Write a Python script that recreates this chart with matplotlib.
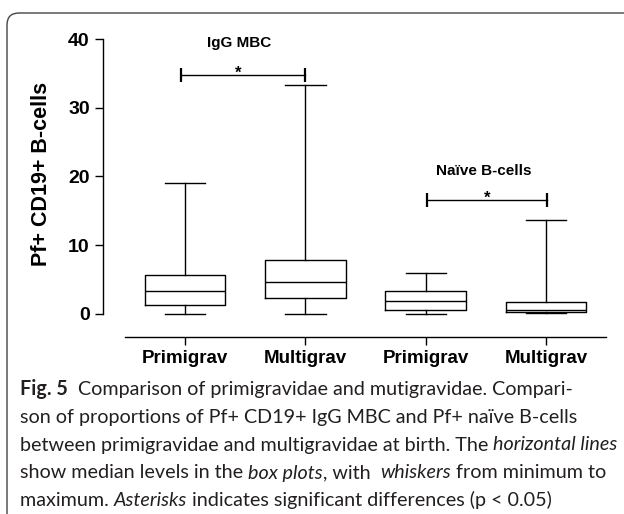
import matplotlib
matplotlib.use("Agg")
from matplotlib import pyplot as plt
from matplotlib.patches import FancyBboxPatch

# box plot summary (min, q1, median, q3, max)
groups = ['Primigrav', 'Multigrav', 'Primigrav', 'Multigrav']
mins = [0.0, 0.0, 0.0, 0.05]
q1s = [1.3, 2.3, 0.6, 0.2]
medians = [3.3, 4.6, 1.8, 0.6]
q3s = [5.7, 7.8, 3.3, 1.7]
maxs = [19.1, 33.3, 6.0, 13.6]
yticks = [0, 10, 20, 30, 40]

fig = plt.figure(figsize=(6.24, 5.14), dpi=100)
ax = fig.add_axes([0.165, 0.344, 0.808, 0.580])

stats = []
for i in range(len(groups)):
    stats.append(dict(whislo=mins[i], q1=q1s[i], med=medians[i], q3=q3s[i],
                      whishi=maxs[i], fliers=[], label=groups[i]))

lw = 1.0
ax.bxp(stats, positions=[1, 2, 3, 4], widths=0.67, showfliers=False,
       boxprops=dict(color='black', linewidth=lw),
       whiskerprops=dict(color='black', linewidth=lw),
       capprops=dict(color='black', linewidth=lw),
       medianprops=dict(color='black', linewidth=lw))

ax.set_xlim(0.318, 4.507)
ax.set_ylim(-3.4, 40)
ax.set_yticks(yticks)
ax.spines['top'].set_visible(False)
ax.spines['right'].set_visible(False)
ax.spines['left'].set_bounds(0, 40)
ax.spines['bottom'].set_bounds(0.5, 4.5)
ax.spines['left'].set_linewidth(lw)
ax.spines['bottom'].set_linewidth(lw)
ax.tick_params(width=lw, length=6, labelsize=14)
ax.tick_params(axis='x', pad=3, labelsize=13.5)
ax.set_xticks([1, 2, 3, 4])
ax.set_xticklabels(groups)
for t in ax.get_xticklabels() + ax.get_yticklabels():
    t.set_fontfamily('Liberation Sans')
    t.set_fontweight('bold')
ax.set_ylabel('Pf+ CD19+ B-cells', fontsize=15.5, fontweight='bold',
              fontfamily='Liberation Sans')
ax.yaxis.set_label_coords(-0.101, 0.547)

# significance brackets
def bracket(x0, x1, y, star_x):
    ax.plot([x0, x1], [y, y], color='black', lw=lw)
    ax.vlines([x0, x1], y - 1.0, y + 1.0, color='black', lw=1.6)
    ax.text(star_x, y - 0.4, '*', ha='center', va='baseline', fontsize=12,
            fontweight='bold', fontfamily='Liberation Sans')

bracket(0.97, 2.0, 34.8, 1.44)
bracket(3.01, 4.01, 16.6, 3.51)
ax.text(1.45, 39.4, 'IgG MBC', ha='center', va='center', fontsize=11,
        fontweight='bold', fontfamily='Liberation Sans')
ax.text(3.48, 20.8, 'Naïve B-cells', ha='center', va='center', fontsize=11,
        fontweight='bold', fontfamily='Liberation Sans')

# frame round figure + caption
frame = FancyBboxPatch((7, -60), 700, 514 - 13 + 60,
                       boxstyle='round,pad=0,rounding_size=12',
                       transform=None, fill=False, edgecolor='#444444', lw=1.0)
fig.patches.append(frame)

cap_font = 'Lato'
cap_size = 14.2
cap_color = '#231f20'
lines = [
    [('Fig. 5', 'bold'), ('  Comparison of primigravidae and mutigravidae. Compari-', 'normal')],
    [('son of proportions of Pf+ CD19+ IgG MBC and Pf+ naïve B-cells', 'normal')],
    [('between primigravidae and multigravidae at birth. The ', 'normal'),
     ('horizontal lines', 'italic')],
    [('show median levels in the ', 'normal'), ('box plots', 'italic'),
     (', with  ', 'normal'), ('whiskers', 'italic'), (' from minimum to', 'normal')],
    [('maximum. ', 'normal'), ('Asterisks', 'italic'),
     (' indicates significant differences (p < 0.05)', 'normal')],
]
line_y = [389, 417, 445, 473, 500]

fig.canvas.draw()
renderer = fig.canvas.get_renderer()
for runs, ypx in zip(lines, line_y):
    x = 20
    for txt, style in runs:
        kw = dict(fontsize=cap_size, fontfamily=cap_font, color=cap_color,
                  va='center', ha='left', transform=None)
        if style == 'bold':
            kw['fontweight'] = 'bold'
        if style == 'italic':
            kw['fontstyle'] = 'italic'
        t = fig.text(x, 514 - ypx, txt, **kw)
        bb = t.get_window_extent(renderer)
        x = bb.x1

fig.savefig('out.png', dpi=100)
